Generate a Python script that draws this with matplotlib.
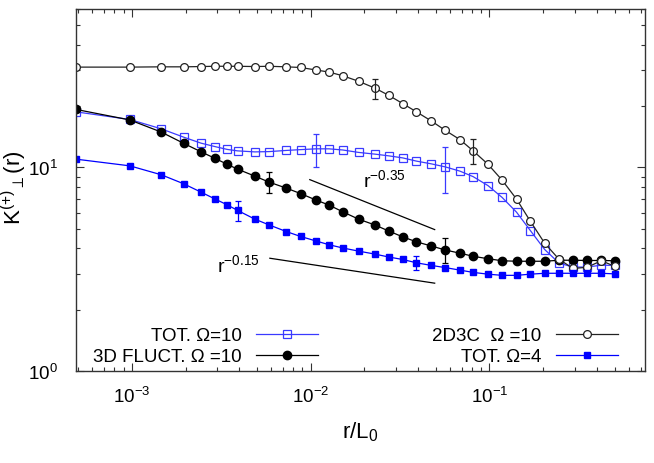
import matplotlib
matplotlib.use("Agg")
import matplotlib.pyplot as plt
from matplotlib.ticker import LogLocator, NullFormatter
from matplotlib.lines import Line2D

plt.rcParams['font.family'] = ['Liberation Sans', 'DejaVu Sans']
plt.rcParams['mathtext.fontset'] = 'custom'
plt.rcParams['mathtext.rm'] = 'Liberation Sans'
plt.rcParams['mathtext.it'] = 'Liberation Sans'
plt.rcParams['mathtext.sf'] = 'Liberation Sans'
plt.rcParams['mathtext.bf'] = 'Liberation Sans:bold'

# separations in grid units, r/L0 = n / 2048
N_SEP = [1, 2, 3, 4, 5, 6, 7, 8, 10, 12, 15, 18, 22, 26, 31, 38, 47, 56, 67, 80,
         97, 116, 140, 166, 201, 241, 290, 347, 417, 501, 600, 718, 865, 1024]
N_GRID = 2048

TOT_W10 = [18.75, 17.2, 15.47, 14.08, 13.16, 12.65, 12.26, 12.06, 11.92, 11.96,
           12.12, 12.23, 12.34, 12.34, 12.18, 11.85, 11.62, 11.40, 11.14, 10.74,
           10.41, 10.06, 9.59, 9.01, 8.14, 7.12, 6.03, 4.89, 3.95, 3.39,
           3.24, 3.24, 3.31, 3.30]
FLUCT_W10 = [19.27, 17.11, 14.91, 13.13, 11.93, 11.07, 10.36, 9.81, 9.06, 8.47,
             7.91, 7.44, 6.91, 6.53, 6.05, 5.57, 5.21, 4.87, 4.56, 4.31,
             4.11, 3.93, 3.79, 3.66, 3.56, 3.48, 3.46, 3.46, 3.46, 3.50,
             3.50, 3.49, 3.49, 3.48]
C2D3C_W10 = [31.1, 31.1, 31.2, 31.2, 31.3, 31.4, 31.4, 31.4, 31.3, 31.4,
             31.2, 30.97, 30.1, 29.4, 28.2, 26.5, 24.5, 22.6, 20.6, 18.75,
             16.9, 15.2, 13.7, 12.06, 10.36, 8.66, 6.99, 5.43, 4.24, 3.54,
             3.19, 3.23, 3.48, 3.27]
TOT_W4 = [10.98, 10.18, 9.20, 8.31, 7.56, 6.99, 6.55, 6.15, 5.57, 5.22,
          4.84, 4.58, 4.35, 4.17, 4.02, 3.88, 3.75, 3.63, 3.53, 3.40,
          3.30, 3.22, 3.13, 3.05, 2.99, 2.95, 2.95, 2.99, 3.02, 3.02,
          3.02, 3.02, 3.02, 3.00]

# error bars: (separation n, half-width)
ERR_TOT_W10_N, ERR_TOT_W10 = [22, 116], [2.25, 2.55]
ERR_FLUCT_W10_N, ERR_FLUCT_W10 = [12, 116], [1.0, 0.55]
ERR_2D3C_N, ERR_2D3C = [47, 166], [2.8, 1.7]
ERR_TOT_W4_N, ERR_TOT_W4 = [8, 80], [0.68, 0.28]

# reference power laws
SLOPE35_R, SLOPE35_K = [0.0099, 0.0494], [8.71, 4.95]
SLOPE15_R, SLOPE15_K = [0.00592, 0.0494], [3.58, 2.70]

BLUE = '#0000ff'
LBLUE = '#3a3aff'
BLACK = '#000000'
DARK = '#222222'


def errpts(n_list, values):
    xs = [n / N_GRID for n in n_list]
    ys = [values[N_SEP.index(n)] for n in n_list]
    return xs, ys


def main():
    fig = plt.figure(figsize=(6.54, 4.64), dpi=100)
    ax = fig.add_axes([0.1162, 0.1983, 0.8700, 0.7801])
    r = [n / N_GRID for n in N_SEP]

    lw = 0.9
    l_tot10, = ax.plot(r, TOT_W10, '-', color=LBLUE, lw=lw, marker='s', ms=5.2,
                       mfc='none', mec=LBLUE, mew=0.9)
    l_fl10, = ax.plot(r, FLUCT_W10, '-', color=BLACK, lw=lw, marker='o', ms=6.0,
                      mfc=BLACK, mec=BLACK)
    l_2d3c, = ax.plot(r, C2D3C_W10, '-', color=DARK, lw=lw, marker='o', ms=5.6,
                      mfc='white', mec=DARK, mew=0.9)
    l_tot4, = ax.plot(r, TOT_W4, '-', color=BLUE, lw=lw, marker='s', ms=5.0,
                      mfc=BLUE, mec=BLUE)

    for n_list, errs, vals, col in [(ERR_TOT_W10_N, ERR_TOT_W10, TOT_W10, LBLUE),
                                    (ERR_FLUCT_W10_N, ERR_FLUCT_W10, FLUCT_W10, BLACK),
                                    (ERR_2D3C_N, ERR_2D3C, C2D3C_W10, DARK),
                                    (ERR_TOT_W4_N, ERR_TOT_W4, TOT_W4, BLUE)]:
        xs, ys = errpts(n_list, vals)
        ax.errorbar(xs, ys, yerr=errs, fmt='none', ecolor=col, elinewidth=0.9,
                    capsize=2.5, capthick=0.9)

    ax.plot(SLOPE35_R, SLOPE35_K, '-', color=BLACK, lw=0.9)
    ax.plot(SLOPE15_R, SLOPE15_K, '-', color=BLACK, lw=0.9)
    ax.text(0.0196, 8.1, r'r$^{-0.35}$', fontsize=14, ha='left', va='baseline')
    ax.text(0.00298, 3.11, r'r$^{-0.15}$', fontsize=14, ha='left', va='baseline')

    ax.set_xscale('log')
    ax.set_yscale('log')
    ax.set_xlim(1 / N_GRID, 0.74)
    ax.set_ylim(1, 60)
    ax.xaxis.set_major_locator(LogLocator(base=10, numticks=10))
    ax.xaxis.set_minor_locator(LogLocator(base=10, subs=range(2, 10), numticks=20))
    ax.yaxis.set_minor_locator(LogLocator(base=10, subs=range(2, 10), numticks=20))
    ax.xaxis.set_minor_formatter(NullFormatter())
    ax.yaxis.set_minor_formatter(NullFormatter())

    ax.tick_params(which='both', direction='in', top=True, right=True,
                   width=0.8, color='#333333', labelsize=13.5)
    ax.tick_params(which='major', length=5.5)
    ax.tick_params(which='minor', length=2.8)
    ax.tick_params(axis='x', which='major', pad=11)
    ax.tick_params(axis='y', which='major', pad=13)
    for sp in ax.spines.values():
        sp.set_linewidth(1.0)
        sp.set_color('#333333')

    ax.set_xlabel(r'r/L$_0$', fontsize=16)
    ax.set_ylabel(r'K$^{(+)}$$_{\perp}$(r)', fontsize=16)
    ax.xaxis.set_label_coords(0.5, -0.135)
    ax.yaxis.set_label_coords(-0.083, 0.51)

    def handle(line):
        return Line2D([], [], color=line.get_color(), lw=lw, marker=line.get_marker(),
                      ms=line.get_markersize(), mfc=line.get_markerfacecolor(),
                      mec=line.get_markeredgecolor(), mew=line.get_markeredgewidth())

    leg_kw = dict(frameon=False, markerfirst=False, fontsize=13.5, handlelength=3.3,
                  handletextpad=0.75, labelspacing=0.2, borderpad=0, borderaxespad=0,
                  numpoints=1)
    leg1 = ax.legend([handle(l_tot10), handle(l_fl10)],
                     ['TOT. Ω=10', '3D FLUCT. Ω =10'], loc='lower right',
                     bbox_to_anchor=(0.4253, 0.016), **leg_kw)
    ax.add_artist(leg1)
    ax.legend([handle(l_2d3c), handle(l_tot4)],
              ['2D3C  Ω =10', 'TOT. Ω=4'], loc='lower right',
              bbox_to_anchor=(0.952, 0.016), **leg_kw)

    fig.savefig('out.png', dpi=100)


if __name__ == '__main__':
    main()
